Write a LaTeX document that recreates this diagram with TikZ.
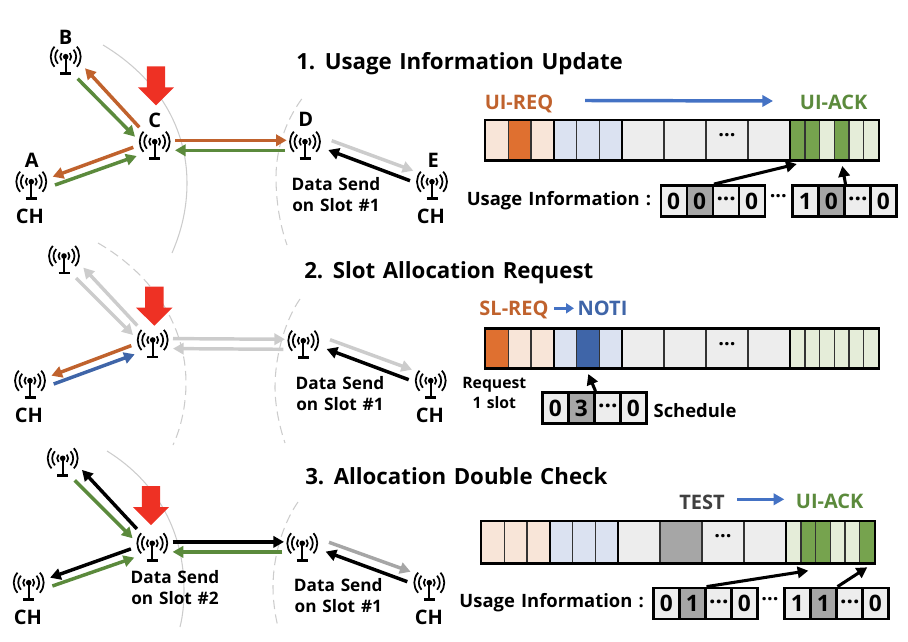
\documentclass[tikz,border=0pt]{standalone}
\usepackage{fontspec}
\setmainfont[WordSpace=1.3]{Open Sans}
\usepackage{tikz}
\usetikzlibrary{arrows.meta}

\definecolor{ubrown}{HTML}{C0622D}
\definecolor{ugreen}{HTML}{5B8A3C}
\definecolor{ublue}{HTML}{3F65A8}
\definecolor{sblue}{HTML}{4472C4}
\definecolor{ugray}{HTML}{CCCCCC}
\definecolor{mgray}{HTML}{A6A6A6}
\definecolor{ured}{HTML}{EE3124}
\definecolor{paleor}{HTML}{F8E5D8}
\definecolor{darkor}{HTML}{DF7030}
\definecolor{paleblue}{HTML}{DBE2F1}
\definecolor{palegray}{HTML}{EDEDED}
\definecolor{palegreen}{HTML}{E5EDD9}
\definecolor{darkgreen}{HTML}{76A34E}

\tikzset{
  lnk/.style = {line width=2.6pt, -{Triangle[length=8pt,width=8.5pt]}},
  ptr/.style = {line width=2.3pt, black, -{Triangle[length=8pt,width=8.5pt]}},
  reach/.style = {ugray, line width=0.8pt},
  reachdash/.style = {reach, dash pattern=on 7pt off 4pt},
  lbl/.style = {font=\bfseries\fontsize{15}{17}\selectfont, inner sep=0pt},
  ttl/.style = {font=\bfseries\fontsize{16.7}{19}\selectfont, inner sep=0pt, anchor=west},
  txt/.style = {font=\bfseries\fontsize{12.9}{15.5}\selectfont, inner sep=0pt, align=center},
  usetxt/.style = {font=\bfseries\fontsize{13.8}{16}\selectfont, inner sep=0pt},
  smalltxt/.style = {font=\bfseries\fontsize{11.8}{15}\selectfont, inner sep=0pt, align=center},
  antnode/.style = {inner sep=0pt, minimum size=22pt},
  cell/.style = {draw, line width=1.8pt, fill=palegray, minimum width=19.5pt, minimum height=23.5pt,
    inner sep=0pt, font=\bfseries\fontsize{17}{18}\selectfont},
  antsym/.pic = {
    \foreach \r in {5.5, 10.5, 15} {
      \draw[line width=1.3pt] (-42:\r) arc (-42:42:\r);
      \draw[line width=1.3pt] (138:\r) arc (138:222:\r);
    }
    \fill (0, 0) circle (2.8);
    \draw[line width=1.7pt] (0, 0) -- (0, 16);
    \draw[line width=2.2pt] (-5.5, 17) -- (5.5, 17);
  },
  redmark/.pic = {
    \fill[ured] (-9.2, 0) -- (9.2, 0) -- (9.2, 21) -- (18.2, 21) -- (0, 39) -- (-18.2, 21)
      -- (-9.2, 21) -- cycle;
  }
}

\newcommand{\threedots}{\raisebox{0.3ex}{...}}

% name, x, y
\newcommand{\antenna}[3]{
  \node[antnode] (#1) at (#2, #3) {};
  \pic at (#1) {antsym};
}

\newcommand{\markslot}[3]{\fill[#1] (#2, \bartop) rectangle (#3, \barbot);}

% name, x shift, top, bottom, marked slots
\newcommand{\slotbar}[5]{
  \def\bartop{#3}
  \def\barbot{#4}
  \begin{scope}[xshift=#2*0.75pt]
    \markslot{paleor}{485}{554}
    \markslot{paleblue}{554}{622}
    \markslot{palegray}{622}{790}
    \markslot{palegreen}{790}{879}
    #5
    \foreach \slotx in {508.7, 531, 576.7, 599.3, 664, 706, 748, 805, 819.3, 834.3, 849, 863.3} {
      \draw[line width=0.8pt, black!80] (\slotx, \bartop) -- (\slotx, \barbot);
    }
    \foreach \slotx in {554, 622, 790} {
      \draw[line width=1.6pt] (\slotx, \bartop) -- (\slotx, \barbot);
    }
    \draw[line width=2.2pt] (485, \bartop) rectangle (879, \barbot);
    \node[lbl] (#1dots) at (727, #3 + 17) {\threedots};
  \end{scope}
}

% name, x, y, first value, second value
\newcommand{\infocells}[5]{
  \node[cell] (#1a) at (#2 + 13, #3) {#4};
  \node[cell, fill=mgray] (#1b) at (#2 + 39, #3) {#5};
  \node[cell] (#1c) at (#2 + 65.5, #3) {\threedots};
  \node[cell] (#1d) at (#2 + 91, #3) {0};
}

\begin{document}
\begin{tikzpicture}[x=0.75pt, y=-0.75pt]
\useasboundingbox (0, 0) rectangle (908, 642);

% reach of the nodes
\draw[reach] (103, 45) .. controls (158, 78) and (187, 128) .. (187, 183)
  .. controls (187, 207) and (182, 230) .. (172, 253);
\draw[reachdash] (301.7, 99) .. controls (285, 122) and (276, 150) .. (276, 177)
  .. controls (276, 202) and (280, 225) .. (287, 245);
\draw[reachdash] (98, 243) .. controls (155, 276) and (186, 328) .. (186, 383)
  .. controls (186, 405) and (181, 428) .. (173, 445);
\draw[reachdash] (300, 299) .. controls (284, 322) and (275, 358) .. (275, 387)
  .. controls (275, 405) and (279, 425) .. (285, 443);
\draw[reach] (107, 451) .. controls (160, 484) and (184, 535) .. (184, 590)
  .. controls (184, 603) and (183, 615) .. (180, 627);
\draw[reachdash] (298, 502) .. controls (282, 525) and (273, 558) .. (273, 587)
  .. controls (273, 600) and (275, 615) .. (278, 627);

% first row
\antenna{b1}{65.7}{56.7}
\antenna{c1}{154.7}{141.7}
\antenna{a1}{31.3}{181.7}
\antenna{d1}{305}{141.7}
\antenna{e1}{432}{181.7}
\pic at (156, 66.3) {redmark};
\node[lbl] (labb) at (65.7, 37.3) {B};
\node[lbl] (labc) at (154.7, 120.7) {C};
\node[lbl] (laba) at (31.7, 160.7) {A};
\node[lbl] (labd) at (305.7, 119.3) {D};
\node[lbl] (labe) at (433.3, 160.7) {E};
\node[lbl] (cha1) at (30, 216) {CH};
\node[lbl] (che1) at (431, 216) {CH};
\node[txt] (data1) at (336, 194.5) {Data Send\\on Slot \#1};
\draw[lnk, ubrown] ([shift={(-15.4, -14.4)}]c1.center) -- ([shift={(19.3, 11.6)}]b1.center);
\draw[lnk, ugreen] ([shift={(12, 22)}]b1.center) -- ([shift={(-19.7, -5)}]c1.center);
\draw[lnk, ubrown] ([shift={(-21.4, 5.6)}]c1.center) -- ([shift={(21.4, -5)}]a1.center);
\draw[lnk, ugreen] ([shift={(23.7, 3.3)}]a1.center) -- ([shift={(-18, 14.3)}]c1.center);
\draw[lnk, ubrown] ([shift={(20.3, -1.4)}]c1.center) -- ([shift={(-18.3, -1.4)}]d1.center);
\draw[lnk, ugreen] ([shift={(-20, 8.6)}]d1.center) -- ([shift={(20.3, 8.6)}]c1.center);
\draw[lnk, ugray] ([shift={(26.7, -1)}]d1.center) -- ([shift={(-18.7, -11)}]e1.center);
\draw[lnk, black] ([shift={(-22, -1)}]e1.center) -- ([shift={(23.3, 8.3)}]d1.center);

\node[ttl] (title1) at (296, 63.5) {1. Usage Information Update};
\node[lbl, ubrown] (uireq1) at (519, 103.5) {UI-REQ};
\node[lbl, ugreen] (uiack1) at (833.7, 102.3) {UI-ACK};
\draw[lnk, sblue] (585, 100.5) -- (773, 101);
\slotbar{slots1}{0}{120}{160.7}{
  \markslot{darkor}{508.7}{531}
  \markslot{darkgreen}{790}{819.3}
  \markslot{darkgreen}{834.3}{849}
}
\coordinate (hit1a) at (796.7, 164);
\coordinate (hit1b) at (842.3, 166);
\node[usetxt] (usage1) at (559, 200.5) {Usage Information :};
\infocells{ua}{660.7}{201}{0}{0}
\infocells{ub}{792.3}{201}{1}{0}
\node[lbl] (more1) at (778.3, 198) {\threedots};
\draw[ptr] (uab.north east) -- (hit1a);
\draw[ptr] (ubb.north east) -- (hit1b);

% second row
\antenna{b2}{64}{256}
\antenna{c2}{152.7}{340}
\antenna{a2}{30}{380.7}
\antenna{d2}{303.3}{340.7}
\antenna{e2}{430.7}{380.7}
\pic at (154.3, 286.7) {redmark};
\node[lbl] (cha2) at (29, 415) {CH};
\node[lbl] (che2) at (430, 415) {CH};
\node[txt] (data2) at (340, 393.5) {Data Send\\on Slot \#1};
\draw[lnk, ugray] ([shift={(-15.4, -14.4)}]c2.center) -- ([shift={(19.3, 11.6)}]b2.center);
\draw[lnk, ugray] ([shift={(12, 22)}]b2.center) -- ([shift={(-19.7, -5)}]c2.center);
\draw[lnk, ubrown] ([shift={(-21.4, 5.6)}]c2.center) -- ([shift={(21.4, -5)}]a2.center);
\draw[lnk, ublue] ([shift={(23.7, 3.3)}]a2.center) -- ([shift={(-18, 14.3)}]c2.center);
\draw[lnk, ugray] ([shift={(20.3, -1.4)}]c2.center) -- ([shift={(-18.3, -1.4)}]d2.center);
\draw[lnk, ugray] ([shift={(-20, 8.6)}]d2.center) -- ([shift={(20.3, 8.6)}]c2.center);
\draw[lnk, ugray] ([shift={(26.7, -1)}]d2.center) -- ([shift={(-18.7, -11)}]e2.center);
\draw[lnk, black] ([shift={(-22, -1)}]e2.center) -- ([shift={(23.3, 8.3)}]d2.center);

\node[ttl] (title2) at (304, 273) {2. Slot Allocation Request};
\node[lbl, ubrown] (slreq) at (514, 310) {SL-REQ};
\node[lbl, ublue] (noti) at (602.5, 308.3) {NOTI};
\draw[line width=2.2pt, sblue, -{Triangle[length=6pt,width=7.5pt]}] (554, 308.3) -- (574, 308.3);
\slotbar{slots2}{0}{328.3}{368.3}{
  \markslot{darkor}{485}{508.7}
  \markslot{ublue}{576.7}{599.3}
}
\coordinate (hit2) at (588.3, 374);
\node[smalltxt] (reqslot) at (494.3, 393) {Request\\1 slot};
\infocells{uc}{542.3}{408}{0}{3}
\node[usetxt] (sched) at (695, 410.7) {Schedule};
\draw[ptr] (ucb.north east) -- (hit2);

% third row
\antenna{b3}{62.7}{458.3}
\antenna{c3}{152.3}{543.3}
\antenna{a3}{28.7}{582.7}
\antenna{d3}{302.3}{543.3}
\antenna{e3}{429.3}{582.7}
\pic at (151, 486) {redmark};
\node[lbl] (cha3) at (28, 617) {CH};
\node[lbl] (che3) at (429, 617) {CH};
\node[txt] (data3a) at (175, 587.5) {Data Send\\on Slot \#2};
\node[txt] (data3b) at (338.3, 595.5) {Data Send\\on Slot \#1};
\draw[lnk, black] ([shift={(-15.4, -14.4)}]c3.center) -- ([shift={(19.3, 11.6)}]b3.center);
\draw[lnk, ugreen] ([shift={(12, 22)}]b3.center) -- ([shift={(-19.7, -5)}]c3.center);
\draw[lnk, black] ([shift={(-21.4, 5.6)}]c3.center) -- ([shift={(21.4, -5)}]a3.center);
\draw[lnk, ugreen] ([shift={(23.7, 3.3)}]a3.center) -- ([shift={(-18, 14.3)}]c3.center);
\draw[lnk, black] ([shift={(20.3, -1.4)}]c3.center) -- ([shift={(-18.3, -1.4)}]d3.center);
\draw[lnk, ugreen] ([shift={(-20, 8.6)}]d3.center) -- ([shift={(20.3, 8.6)}]c3.center);
\draw[lnk, mgray] ([shift={(26.7, -1)}]d3.center) -- ([shift={(-18.7, -11)}]e3.center);
\draw[lnk, black] ([shift={(-22, -1)}]e3.center) -- ([shift={(23.3, 8.3)}]d3.center);

\node[ttl] (title3) at (305, 476.5) {3. Allocation Double Check};
\node[lbl, black!75] (test) at (702, 502.3) {TEST};
\node[lbl, ugreen] (uiack3) at (829.7, 501.7) {UI-ACK};
\draw[lnk, sblue] (737.3, 499.3) -- (784.3, 499.3);
\slotbar{slots3}{-4}{521}{563.3}{
  \markslot{mgray}{664}{706}
  \markslot{darkgreen}{805}{834.3}
  \markslot{darkgreen}{863.3}{879}
}
\coordinate (hit3a) at (808.3, 570.7);
\coordinate (hit3b) at (867.3, 567.3);
\node[usetxt] (usage3) at (551.7, 603) {Usage Information :};
\infocells{ud}{653.3}{603.5}{0}{1}
\infocells{ue}{784.3}{603.5}{1}{1}
\node[lbl] (more3) at (770, 601) {\threedots};
\draw[ptr] (udb.north east) -- (hit3a);
\draw[ptr] (ueb.north east) -- (hit3b);
\end{tikzpicture}
\end{document}
